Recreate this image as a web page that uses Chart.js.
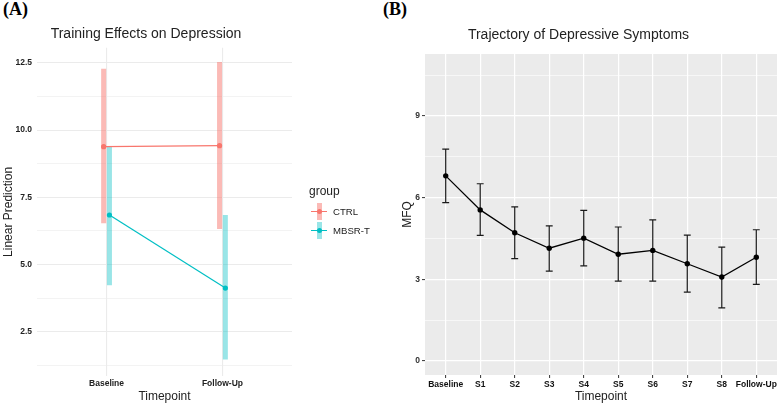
<!DOCTYPE html>
<html>
<head>
<meta charset="utf-8">
<script src="https://cdn.jsdelivr.net/npm/chart.js@4.4.0/dist/chart.umd.min.js"></script>
<style>
  body { margin: 0; background: #fff; width: 778px; height: 404px; overflow: hidden; position: relative; font-family: "Liberation Sans", Arial, sans-serif; }
  canvas { position: absolute; top: 0; }
  .tag { position: absolute; top: -1px; font: bold 18px "Liberation Serif", "Times New Roman", serif; color: #000; }
  .leg { position: absolute; color: #222; }
  .key { position: absolute; width: 16px; height: 17px; }
  .key .bar { position: absolute; left: 5.5px; top: 0; width: 5px; height: 17px; }
  .key .ln { position: absolute; left: 0; top: 8px; width: 16px; height: 1.2px; }
  .key .dot { position: absolute; left: 5.5px; top: 6px; width: 5px; height: 5px; border-radius: 50%; }
</style>
</head>
<body>
<div class="tag" style="left:3px">(A)</div>
<div class="tag" style="left:383px">(B)</div>
<canvas id="chartA" width="329" height="404" style="left:0"></canvas>
<canvas id="chartB" width="442" height="404" style="left:380px"></canvas>
<div id="legendA"></div>

<script>
// ---- panel A data
const timesA = ['Baseline', 'Follow-Up'];
const groups = ['CTRL', 'MBSR-T'];
const groupColors = ['#F8766D', '#00BFC4'];
const groupBarColors = ['rgba(248,118,109,0.5)', 'rgba(0,191,196,0.4)'];
const ctrlMean = [9.38, 9.42];
const ctrlLow = [6.53, 6.32];
const ctrlHigh = [12.28, 12.53];
const mbsrMean = [6.84, 4.12];
const mbsrLow = [4.23, 1.46];
const mbsrHigh = [9.40, 6.84];
const dodge = 0.05;

// ---- panel B data
const timesB = ['Baseline', 'S1', 'S2', 'S3', 'S4', 'S5', 'S6', 'S7', 'S8', 'Follow-Up'];
const mfqMean = [6.80, 5.55, 4.71, 4.14, 4.51, 3.92, 4.06, 3.57, 3.08, 3.81];
const mfqLow = [5.82, 4.61, 3.76, 3.30, 3.49, 2.93, 2.93, 2.53, 1.95, 2.81];
const mfqHigh = [7.78, 6.51, 5.66, 4.96, 5.53, 4.92, 5.18, 4.62, 4.18, 4.82];

const isMult = (v, step) => Math.abs(v / step - Math.round(v / step)) < 1e-6;

// vertical error bars from dataset.lo / dataset.hi
const errorBars = {
  id: 'errorBars',
  beforeDatasetsDraw(chart, args, opts) {
    const { ctx, scales: { x, y } } = chart;
    chart.data.datasets.forEach((ds) => {
      ctx.save();
      ctx.strokeStyle = ds.barColor;
      ctx.lineWidth = opts.width;
      ctx.lineCap = 'butt';
      ds.data.forEach((p, i) => {
        const px = x.getPixelForValue(p.x);
        const top = y.getPixelForValue(ds.hi[i]);
        const bot = y.getPixelForValue(ds.lo[i]);
        ctx.beginPath();
        ctx.moveTo(px, top);
        ctx.lineTo(px, bot);
        if (opts.cap) {
          const l = x.getPixelForValue(p.x - opts.cap), r = x.getPixelForValue(p.x + opts.cap);
          ctx.moveTo(l, top); ctx.lineTo(r, top);
          ctx.moveTo(l, bot); ctx.lineTo(r, bot);
        }
        ctx.stroke();
      });
      ctx.restore();
    });
  }
};

const panelBg = {
  id: 'panelBg',
  beforeDraw(chart, args, opts) {
    if (!opts.color) return;
    const { ctx, chartArea: a } = chart;
    ctx.save();
    ctx.fillStyle = opts.color;
    ctx.fillRect(a.left, a.top, a.right - a.left, a.bottom - a.top);
    ctx.restore();
  }
};

const tickFont = { family: '"Liberation Sans", Arial, sans-serif', size: 8.5, weight: 'bold' };
const textFont = { family: '"Liberation Sans", Arial, sans-serif', size: 12, weight: 'normal' };

// ---- chart A
const seriesA = [
  { mean: ctrlMean, lo: ctrlLow, hi: ctrlHigh },
  { mean: mbsrMean, lo: mbsrLow, hi: mbsrHigh }
];

new Chart(document.getElementById('chartA'), {
  type: 'line',
  data: {
    datasets: seriesA.map((s, g) => ({
      label: groups[g],
      data: s.mean.map((v, i) => ({ x: i + 1 + (g === 0 ? -dodge / 2 : dodge / 2), y: v })),
      lo: s.lo,
      hi: s.hi,
      barColor: groupBarColors[g],
      borderColor: groupColors[g],
      backgroundColor: groupColors[g],
      borderWidth: 1.2,
      pointRadius: 2.6,
      pointBorderWidth: 0,
      tension: 0
    }))
  },
  plugins: [errorBars],
  options: {
    responsive: false,
    animation: false,
    layout: { padding: { left: 0, right: 37, top: 0, bottom: 0 } },
    plugins: {
      legend: { display: false },
      tooltip: { enabled: false },
      errorBars: { width: 5 },
      title: {
        display: true,
        text: 'Training Effects on Depression',
        color: '#222',
        font: { family: '"Liberation Sans", Arial, sans-serif', size: 14, weight: 'normal' },
        padding: { top: 26, bottom: 5 }
      }
    },
    scales: {
      x: {
        type: 'linear',
        min: 0.4,
        max: 2.6,
        afterBuildTicks: (s) => { s.ticks = timesA.map((_, i) => ({ value: i + 1 })); },
        afterFit: (s) => { s.height = 28; },
        ticks: { font: tickFont, color: '#222', padding: 3, maxRotation: 0, callback: (v) => timesA[v - 1] },
        grid: { color: '#ebebeb', lineWidth: 1.1, drawTicks: false },
        border: { display: false },
        title: { display: true, text: 'Timepoint', color: '#222', font: textFont, padding: { top: 1, bottom: 0 } }
      },
      y: {
        min: 0.85,
        max: 13.06,
        afterBuildTicks: (s) => {
          const t = [];
          for (let k = 1; k <= 10; k++) t.push({ value: 1.25 * k });
          s.ticks = t;
        },
        afterFit: (s) => { s.width = 37; },
        ticks: { font: tickFont, color: '#222', padding: 5, callback: (v) => isMult(v, 2.5) ? v.toFixed(1) : '' },
        grid: {
          color: '#ebebeb',
          drawTicks: false,
          lineWidth: (c) => isMult(c.tick.value, 2.5) ? 1.1 : 0.6
        },
        border: { display: false },
        title: { display: true, text: 'Linear Prediction', color: '#222', font: textFont, padding: { top: 1, bottom: 0 } }
      }
    }
  }
});

// legend for A
const legendA = document.getElementById('legendA');
let html = '<div class="leg" style="left:309px;top:184px;font-size:12px">group</div>';
groups.forEach((g, i) => {
  const top = 203 + i * 18.5;
  html += '<div class="key" style="left:311px;top:' + top + 'px">' +
    '<div class="bar" style="background:' + groupBarColors[i] + '"></div>' +
    '<div class="ln" style="background:' + groupColors[i] + '"></div>' +
    '<div class="dot" style="background:' + groupColors[i] + '"></div></div>' +
    '<div class="leg" style="left:333px;top:' + (top + 3) + 'px;font-size:9.6px">' + g + '</div>';
});
legendA.innerHTML = html;

// ---- chart B
new Chart(document.getElementById('chartB'), {
  type: 'line',
  data: {
    datasets: [{
      label: 'MFQ',
      data: mfqMean.map((v, i) => ({ x: i + 1, y: v })),
      lo: mfqLow,
      hi: mfqHigh,
      barColor: '#1a1a1a',
      borderColor: '#000',
      backgroundColor: '#000',
      borderWidth: 1.3,
      pointRadius: 2.7,
      pointBorderWidth: 0,
      tension: 0
    }]
  },
  plugins: [panelBg, errorBars],
  options: {
    responsive: false,
    animation: false,
    layout: { padding: { left: 0, right: 45, top: 0, bottom: 0 } },
    plugins: {
      legend: { display: false },
      tooltip: { enabled: false },
      panelBg: { color: '#ebebeb' },
      errorBars: { width: 1.2, cap: 0.1 },
      title: {
        display: true,
        text: 'Trajectory of Depressive Symptoms',
        color: '#222',
        font: { family: '"Liberation Sans", Arial, sans-serif', size: 14, weight: 'normal' },
        padding: { top: 26.5, bottom: 10.7 }
      }
    },
    scales: {
      x: {
        type: 'linear',
        min: 0.4,
        max: 10.6,
        afterBuildTicks: (s) => { s.ticks = timesB.map((_, i) => ({ value: i + 1 })); },
        afterFit: (s) => { s.height = 29; },
        ticks: { font: tickFont, color: '#111', padding: 2, maxRotation: 0, autoSkip: false, callback: (v) => timesB[v - 1] },
        grid: { color: '#fff', lineWidth: 1.2, tickColor: '#333', tickLength: 3, tickWidth: 1 },
        border: { display: false },
        title: { display: true, text: 'Timepoint', color: '#222', font: textFont, padding: { top: 0, bottom: 0 } }
      },
      y: {
        min: -0.52,
        max: 11.28,
        afterBuildTicks: (s) => {
          const t = [];
          for (let k = 0; k <= 7; k++) t.push({ value: 1.5 * k });
          s.ticks = t;
        },
        afterFit: (s) => { s.width = 45; },
        ticks: { font: tickFont, color: '#333', padding: 2, callback: (v) => isMult(v, 3) ? String(v) : '' },
        grid: {
          color: '#fff',
          lineWidth: (c) => isMult(c.tick.value, 3) ? 1.2 : 0.6,
          tickColor: (c) => isMult(c.tick.value, 3) ? '#333' : 'rgba(0,0,0,0)',
          tickLength: 3,
          tickWidth: 1
        },
        border: { display: false },
        title: { display: true, text: 'MFQ', color: '#222', font: textFont, padding: { top: 20, bottom: 0 } }
      }
    }
  }
});
</script>
</body>
</html>
